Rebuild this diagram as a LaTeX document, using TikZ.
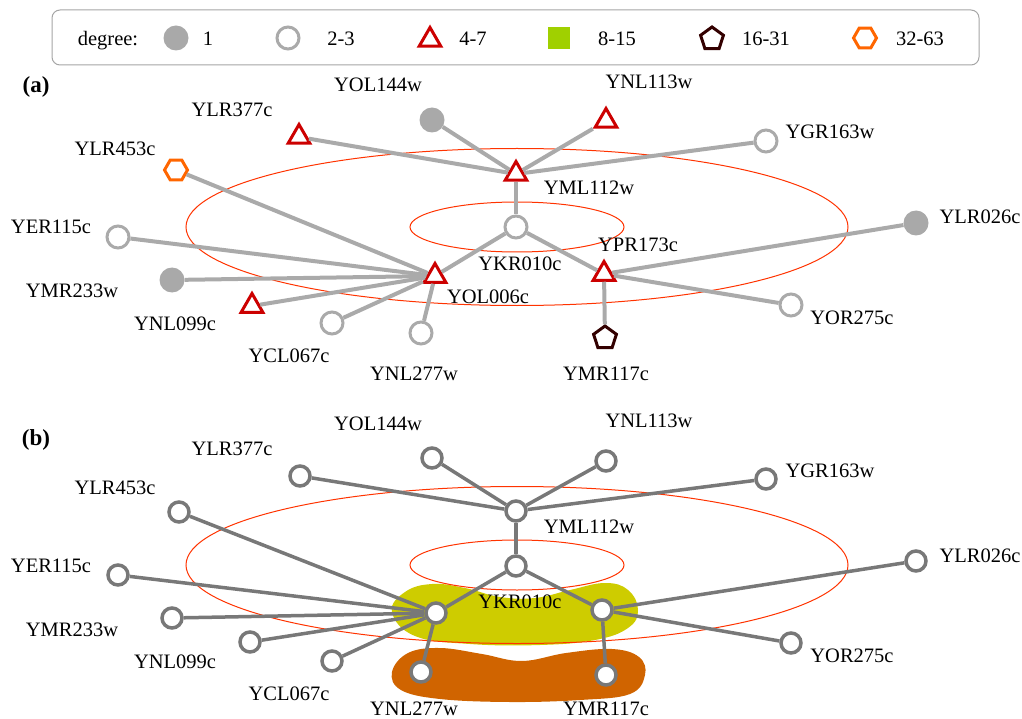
\documentclass[tikz,border=0pt]{standalone}
\usepackage{fontspec}
\setmainfont{Liberation Serif}
\usetikzlibrary{shapes.geometric}
\definecolor{edgeA}{RGB}{170,170,170}
\definecolor{edgeB}{RGB}{120,120,120}
\definecolor{discc}{RGB}{169,169,169}
\definecolor{trired}{RGB}{204,0,0}
\definecolor{sqgreen}{RGB}{160,208,0}
\definecolor{pentc}{RGB}{51,0,0}
\definecolor{hexc}{RGB}{255,102,0}
\definecolor{ringc}{RGB}{255,51,0}
\definecolor{blobY}{RGB}{206,204,0}
\definecolor{blobO}{RGB}{208,100,0}
\definecolor{boxc}{RGB}{165,165,165}
\begin{document}
\begin{tikzpicture}[x=1pt,y=-1pt,
  lab/.style={font=\fontsize{20.5}{24}\selectfont, anchor=base, inner sep=0pt},
  panel/.style={font=\fontsize{23}{26}\selectfont\bfseries, anchor=base, inner sep=0pt},
  deg1/.style={circle, fill=discc, minimum size=25pt, inner sep=0pt},
  deg2/.style={circle, draw=edgeA, line width=3pt, fill=white, minimum size=22pt, inner sep=0pt},
  deg4/.style={regular polygon, regular polygon sides=3, draw=trired, line width=3pt, fill=white, minimum size=25pt, inner sep=0pt},
  deg8/.style={rectangle, fill=sqgreen, minimum size=22pt, inner sep=0pt},
  deg16/.style={regular polygon, regular polygon sides=5, draw=pentc, line width=3pt, fill=white, minimum size=24pt, inner sep=0pt},
  deg32/.style={regular polygon, regular polygon sides=6, draw=hexc, line width=3pt, fill=white, minimum size=23pt, inner sep=0pt},
  bnode/.style={circle, draw=edgeB, line width=3.5pt, fill=white, minimum size=20pt, inner sep=0pt},
  ea/.style={draw=edgeA, line width=4pt},
  eb/.style={draw=edgeB, line width=3.5pt},
  ring/.style={draw=ringc, line width=1pt},
  legbox/.style={draw=boxc, line width=1pt, rounded corners=8pt}
]
\useasboundingbox (0,0) rectangle (1022,719);

% ---------------- legend ----------------
\draw[legbox] (52,10) rectangle (979,65);
\node[lab] (ldeg) at (108,45.5) {degree:};
\node[deg1] (l1s) at (176,38) {};
\node[lab] (l1t) at (208,45.5) {1};
\node[deg2] (l2s) at (288,38) {};
\node[lab] (l2t) at (341,45.5) {2-3};
\node[deg4] (l4s) at (430,40) {};
\node[lab] (l4t) at (473,45.5) {4-7};
\node[deg8] (l8s) at (559,38) {};
\node[lab] (l8t) at (617,45.5) {8-15};
\node[deg16] (l16s) at (712,39) {};
\node[lab] (l16t) at (766,45.5) {16-31};
\node[deg32] (l32s) at (865,38) {};
\node[lab] (l32t) at (920,45.5) {32-63};

% ---------------- panel (a) ----------------
\node[panel] (pa) at (36,93) {(a)};
\draw[ring] (517,227) ellipse [x radius=331, y radius=78.5];
\draw[ring] (517,227) ellipse [x radius=107, y radius=25];

\node[deg1]  (aYOL144w) at (432,120) {};
\node[deg4]  (aYLR377c) at (299,137) {};
\node[deg4]  (aYNL113w) at (606,121) {};
\node[deg2]  (aYGR163w) at (766,141) {};
\node[deg4]  (aYML112w) at (516,174) {};
\node[deg32] (aYLR453c) at (176,170) {};
\node[deg2]  (aYKR010c) at (516,227) {};
\node[deg2]  (aYER115c) at (118,237) {};
\node[deg1]  (aYLR026c) at (916,223) {};
\node[deg1]  (aYMR233w) at (172,280) {};
\node[deg4]  (aYOL006c) at (435,276) {};
\node[deg4]  (aYPR173c) at (604,274) {};
\node[deg4]  (aYNL099c) at (252,306) {};
\node[deg2]  (aYOR275c) at (791,305) {};
\node[deg2]  (aYCL067c) at (332,323) {};
\node[deg2]  (aYNL277w) at (421,333) {};
\node[deg16] (aYMR117c) at (605,338) {};

\draw[ea] (aYML112w) -- (aYOL144w);
\draw[ea] (aYML112w) -- (aYLR377c);
\draw[ea] (aYML112w) -- (aYNL113w);
\draw[ea] (aYML112w) -- (aYGR163w);
\draw[ea] (aYML112w) -- (aYKR010c);
\draw[ea] (aYKR010c) -- (aYOL006c);
\draw[ea] (aYKR010c) -- (aYPR173c);
\draw[ea] (aYOL006c) -- (aYLR453c);
\draw[ea] (aYOL006c) -- (aYER115c);
\draw[ea] (aYOL006c) -- (aYMR233w);
\draw[ea] (aYOL006c) -- (aYNL099c);
\draw[ea] (aYOL006c) -- (aYCL067c);
\draw[ea] (aYOL006c) -- (aYNL277w);
\draw[ea] (aYPR173c) -- (aYLR026c);
\draw[ea] (aYPR173c) -- (aYOR275c);
\draw[ea] (aYPR173c) -- (aYMR117c);

\node[lab] (taYOL144w) at (378,92) {YOL144w};
\node[lab] (taYLR377c) at (232,117) {YLR377c};
\node[lab] (taYNL113w) at (649,89) {YNL113w};
\node[lab] (taYGR163w) at (830,139) {YGR163w};
\node[lab] (taYLR453c) at (115,156) {YLR453c};
\node[lab] (taYML112w) at (589,195) {YML112w};
\node[lab] (taYER115c) at (51,234) {YER115c};
\node[lab] (taYLR026c) at (980,224) {YLR026c};
\node[lab] (taYKR010c) at (520,270) {YKR010c};
\node[lab] (taYPR173c) at (638,252) {YPR173c};
\node[lab] (taYMR233w) at (72,298) {YMR233w};
\node[lab] (taYOL006c) at (488,303) {YOL006c};
\node[lab] (taYNL099c) at (175,330) {YNL099c};
\node[lab] (taYOR275c) at (852,324) {YOR275c};
\node[lab] (taYCL067c) at (289,362) {YCL067c};
\node[lab] (taYNL277w) at (414,380) {YNL277w};
\node[lab] (taYMR117c) at (606,380) {YMR117c};

% ---------------- panel (b) ----------------
\node[panel] (pb) at (36,445) {(b)};
\fill[blobY] plot[smooth cycle, tension=0.7] coordinates {
  (392,612) (405,592) (432,584) (465,588) (500,597) (535,598) (570,590)
  (605,583) (628,590) (638,610) (628,628) (595,640) (540,645) (470,644) (415,636)};
\fill[blobO] plot[smooth cycle, tension=0.65] coordinates {
  (392,672) (408,653) (440,648) (482,654) (522,661) (566,653) (612,649)
  (639,657) (645,675) (630,694) (580,700) (510,702) (440,699) (401,690)};

\begin{scope}[shift={(0,338)}]
\draw[ring] (517,227) ellipse [x radius=331, y radius=78.5];
\draw[ring] (517,227) ellipse [x radius=107, y radius=25];

\node[bnode] (bYOL144w) at (432,120) {};
\node[bnode] (bYLR377c) at (300,138) {};
\node[bnode] (bYNL113w) at (606,123) {};
\node[bnode] (bYGR163w) at (766,141) {};
\node[bnode] (bYML112w) at (516,173) {};
\node[bnode] (bYLR453c) at (179,174) {};
\node[bnode] (bYKR010c) at (516,228) {};
\node[bnode] (bYER115c) at (118,237) {};
\node[bnode] (bYLR026c) at (916,223) {};
\node[bnode] (bYMR233w) at (172,280) {};
\node[bnode] (bYOL006c) at (436,275) {};
\node[bnode] (bYPR173c) at (602,272) {};
\node[bnode] (bYNL099c) at (250,304) {};
\node[bnode] (bYOR275c) at (791,305) {};
\node[bnode] (bYCL067c) at (332,323) {};
\node[bnode] (bYNL277w) at (421,334) {};
\node[bnode] (bYMR117c) at (606,337) {};

\draw[eb] (bYML112w) -- (bYOL144w);
\draw[eb] (bYML112w) -- (bYLR377c);
\draw[eb] (bYML112w) -- (bYNL113w);
\draw[eb] (bYML112w) -- (bYGR163w);
\draw[eb] (bYML112w) -- (bYKR010c);
\draw[eb] (bYKR010c) -- (bYOL006c);
\draw[eb] (bYKR010c) -- (bYPR173c);
\draw[eb] (bYOL006c) -- (bYLR453c);
\draw[eb] (bYOL006c) -- (bYER115c);
\draw[eb] (bYOL006c) -- (bYMR233w);
\draw[eb] (bYOL006c) -- (bYNL099c);
\draw[eb] (bYOL006c) -- (bYCL067c);
\draw[eb] (bYOL006c) -- (bYNL277w);
\draw[eb] (bYPR173c) -- (bYLR026c);
\draw[eb] (bYPR173c) -- (bYOR275c);
\draw[eb] (bYPR173c) -- (bYMR117c);

\node[lab] (tbYOL144w) at (378,92) {YOL144w};
\node[lab] (tbYLR377c) at (232,117) {YLR377c};
\node[lab] (tbYNL113w) at (649,89) {YNL113w};
\node[lab] (tbYGR163w) at (830,139) {YGR163w};
\node[lab] (tbYLR453c) at (115,156) {YLR453c};
\node[lab] (tbYML112w) at (589,195) {YML112w};
\node[lab] (tbYER115c) at (51,234) {YER115c};
\node[lab] (tbYLR026c) at (980,224) {YLR026c};
\node[lab] (tbYKR010c) at (520,270) {YKR010c};
\node[lab] (tbYMR233w) at (72,298) {YMR233w};
\node[lab] (tbYNL099c) at (175,330) {YNL099c};
\node[lab] (tbYOR275c) at (852,324) {YOR275c};
\node[lab] (tbYCL067c) at (289,362) {YCL067c};
\node[lab] (tbYNL277w) at (414,377) {YNL277w};
\node[lab] (tbYMR117c) at (606,377) {YMR117c};
\end{scope}
\end{tikzpicture}
\end{document}
